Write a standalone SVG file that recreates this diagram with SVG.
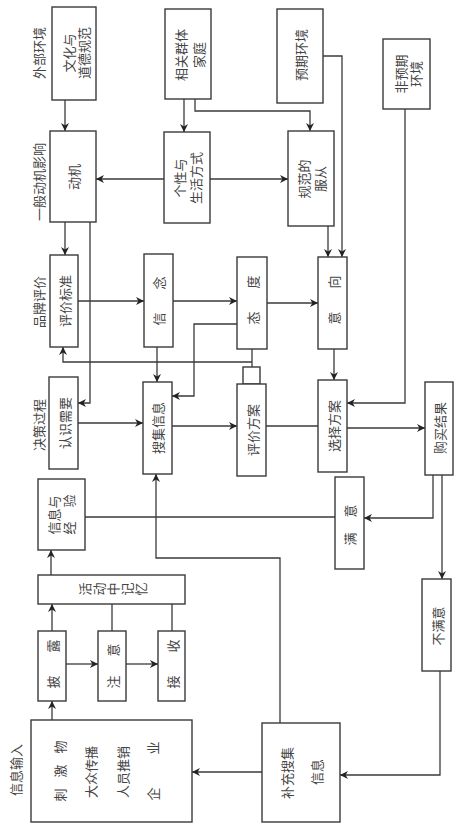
<svg xmlns="http://www.w3.org/2000/svg" width="469" height="832" viewBox="0 0 469 832">
<style>
rect{fill:#fff;stroke:#3a3a3a;stroke-width:1.4}
.c path,.c line,.c polyline{fill:none;stroke:#3a3a3a;stroke-width:1.3}
text{font-family:"Noto Sans CJK SC","Noto Sans CJK JP",sans-serif;font-size:13px;fill:#444;text-anchor:middle;dominant-baseline:central}
</style>
<defs>
<marker id="a" viewBox="0 0 10 10" refX="10" refY="5" markerWidth="9" markerHeight="8" markerUnits="userSpaceOnUse" orient="auto">
<path d="M0,0 L10,5 L0,10 L3,5 z" fill="#222"/>
</marker>
</defs>
<g id="labels">
<text transform="translate(38,53) rotate(-90)">外部环境</text>
<text transform="translate(38,182) rotate(-90)">一般动机影响</text>
<text transform="translate(38,302) rotate(-90)">品牌评价</text>
<text transform="translate(38,425) rotate(-90)">决策过程</text>
<text transform="translate(15,770) rotate(-90)">信息输入</text>
</g>
<g class="c" id="connectors">
<line x1="65" y1="100" x2="65" y2="131" marker-end="url(#a)"/>
<line x1="184" y1="99" x2="184" y2="132" marker-end="url(#a)"/>
<polyline points="195,99 195,111 310,111 310,131" marker-end="url(#a)"/>
<line x1="164" y1="179" x2="96" y2="179" marker-end="url(#a)"/>
<line x1="210" y1="179" x2="288" y2="179" marker-end="url(#a)"/>
<polyline points="323,56 342,56 342,257" marker-end="url(#a)"/>
<line x1="328" y1="226" x2="328" y2="257" marker-end="url(#a)"/>
<line x1="65" y1="222" x2="65" y2="255" marker-end="url(#a)"/>
<polyline points="90,222 90,403 78,403" marker-end="url(#a)"/>
<line x1="78" y1="301" x2="144" y2="301" marker-end="url(#a)"/>
<line x1="173" y1="301" x2="237" y2="301" marker-end="url(#a)"/>
<line x1="267" y1="303" x2="318" y2="303" marker-end="url(#a)"/>
<polyline points="237,324 194,324 194,396 172,396" marker-end="url(#a)"/>
<line x1="252" y1="349" x2="252" y2="367"/>
<polyline points="252,362 63,362 63,347" marker-end="url(#a)"/>
<line x1="157" y1="347" x2="157" y2="382" marker-end="url(#a)"/>
<line x1="78" y1="423" x2="143" y2="423" marker-end="url(#a)"/>
<line x1="172" y1="426" x2="237" y2="426" marker-end="url(#a)"/>
<line x1="266" y1="426" x2="318" y2="426"/>
<line x1="334" y1="349" x2="334" y2="380" marker-end="url(#a)"/>
<polyline points="405,109 405,403 347,403" marker-end="url(#a)"/>
<line x1="347" y1="428" x2="425" y2="428" marker-end="url(#a)"/>
<polyline points="433,475 433,518 364,518" marker-end="url(#a)"/>
<line x1="442" y1="475" x2="442" y2="579" marker-end="url(#a)"/>
<line x1="335" y1="517" x2="85" y2="517"/>
<polyline points="280,723 280,558 156,558 156,474" marker-end="url(#a)"/>
<line x1="51" y1="575" x2="51" y2="550" marker-end="url(#a)"/>
<line x1="52" y1="631" x2="52" y2="604" marker-end="url(#a)"/>
<line x1="112" y1="631" x2="112" y2="604"/>
<line x1="172" y1="631" x2="172" y2="604"/>
<line x1="66" y1="664" x2="98" y2="664" marker-end="url(#a)"/>
<line x1="126" y1="664" x2="158" y2="664" marker-end="url(#a)"/>
<line x1="52" y1="720" x2="52" y2="701" marker-end="url(#a)"/>
<line x1="262" y1="772" x2="192" y2="772" marker-end="url(#a)"/>
<polyline points="440,671 440,775 340,775" marker-end="url(#a)"/>
</g>
<g id="n-wenhua"><rect x="52" y="7" width="44" height="93"/>
<text transform="translate(68,53) rotate(-90)">文化与</text>
<text transform="translate(83,53) rotate(-90)">道德规范</text></g>
<g id="n-xiangguan"><rect x="165" y="9" width="46" height="90"/>
<text transform="translate(180,55) rotate(-90)">相关群体</text>
<text transform="translate(198,55) rotate(-90)">家庭</text></g>
<g id="n-yuqi"><rect x="277" y="9" width="46" height="94"/>
<text transform="translate(300,55) rotate(-90)">预期环境</text></g>
<g id="n-feiyuqi"><rect x="383" y="39" width="47" height="70"/>
<text transform="translate(400,74) rotate(-90)">非预期</text>
<text transform="translate(415,74) rotate(-90)">环境</text></g>
<g id="n-dongji"><rect x="50" y="131" width="46" height="91"/>
<text transform="translate(73,177) rotate(-90)">动机</text></g>
<g id="n-gexing"><rect x="164" y="132" width="46" height="91"/>
<text transform="translate(179,178) rotate(-90)">个性与</text>
<text transform="translate(195,178) rotate(-90)">生活方式</text></g>
<g id="n-guifan"><rect x="288" y="131" width="46" height="95"/>
<text transform="translate(303,179) rotate(-90)">规范的</text>
<text transform="translate(319,179) rotate(-90)">服从</text></g>
<g id="n-biaozhun"><rect x="50" y="255" width="28" height="92"/>
<text transform="translate(64,301) rotate(-90)">评价标准</text></g>
<g id="n-xinnian"><rect x="144" y="254" width="29" height="93"/>
<text transform="translate(158,319) rotate(-90)">信</text>
<text transform="translate(158,283) rotate(-90)">念</text></g>
<g id="n-taidu"><rect x="237" y="257" width="30" height="92"/>
<text transform="translate(252,318) rotate(-90)">态</text>
<text transform="translate(252,282) rotate(-90)">度</text></g>
<g id="n-yixiang"><rect x="318" y="257" width="29" height="92"/>
<text transform="translate(333,318) rotate(-90)">意</text>
<text transform="translate(333,282) rotate(-90)">向</text></g>
<g id="n-renshi"><rect x="49" y="377" width="29" height="92"/>
<text transform="translate(64,423) rotate(-90)">认识需要</text></g>
<g id="n-souji"><rect x="143" y="382" width="29" height="92"/>
<text transform="translate(157,428) rotate(-90)">搜集信息</text></g>
<g id="n-small"><rect x="243" y="367" width="17" height="17"/></g>
<g id="n-pingjia"><rect x="237" y="384" width="29" height="92"/>
<text transform="translate(252,430) rotate(-90)">评价方案</text></g>
<g id="n-xuanze"><rect x="318" y="380" width="29" height="92"/>
<text transform="translate(333,426) rotate(-90)">选择方案</text></g>
<g id="n-goumai"><rect x="425" y="382" width="28" height="93"/>
<text transform="translate(439,428) rotate(-90)">购买结果</text></g>
<g id="n-xinxi"><rect x="38" y="479" width="47" height="71"/>
<text transform="translate(53,515) rotate(-90)">信息与</text>
<text transform="translate(68,528) rotate(-90)">经</text>
<text transform="translate(68,501) rotate(-90)">验</text></g>
<g id="n-manyi"><rect x="335" y="477" width="29" height="92"/>
<text transform="translate(349,539) rotate(-90)">满</text>
<text transform="translate(349,511) rotate(-90)">意</text></g>
<g id="n-jiyi"><rect x="38" y="575" width="147" height="29"/>
<text transform="translate(84,589) rotate(-90)">活</text>
<text transform="translate(98,589) rotate(-90)">动</text>
<text transform="translate(112,589) rotate(-90)">中</text>
<text transform="translate(126,589) rotate(-90)">记</text>
<text transform="translate(140,589) rotate(-90)">忆</text></g>
<g id="n-pilu"><rect x="38" y="631" width="28" height="70"/>
<text transform="translate(52,682) rotate(-90)">披</text>
<text transform="translate(52,646) rotate(-90)">露</text></g>
<g id="n-zhuyi"><rect x="98" y="631" width="28" height="70"/>
<text transform="translate(112,682) rotate(-90)">注</text>
<text transform="translate(112,650) rotate(-90)">意</text></g>
<g id="n-jieshou"><rect x="158" y="631" width="27" height="70"/>
<text transform="translate(172,682) rotate(-90)">接</text>
<text transform="translate(172,646) rotate(-90)">收</text></g>
<g id="n-shuru"><rect x="31" y="720" width="161" height="102"/>
<text transform="translate(59,795) rotate(-90)">刺</text>
<text transform="translate(59,771) rotate(-90)">激</text>
<text transform="translate(59,747) rotate(-90)">物</text>
<text transform="translate(90,772) rotate(-90)">大众传播</text>
<text transform="translate(122,772) rotate(-90)">人员推销</text>
<text transform="translate(152,794) rotate(-90)">企</text>
<text transform="translate(152,748) rotate(-90)">业</text></g>
<g id="n-bumanyi"><rect x="422" y="579" width="29" height="92"/>
<text transform="translate(437,626) rotate(-90)">不满意</text></g>
<g id="n-buchong"><rect x="262" y="723" width="78" height="99"/>
<text transform="translate(286,773) rotate(-90)">补充搜集</text>
<text transform="translate(316,772) rotate(-90)">信息</text></g>
</svg>
